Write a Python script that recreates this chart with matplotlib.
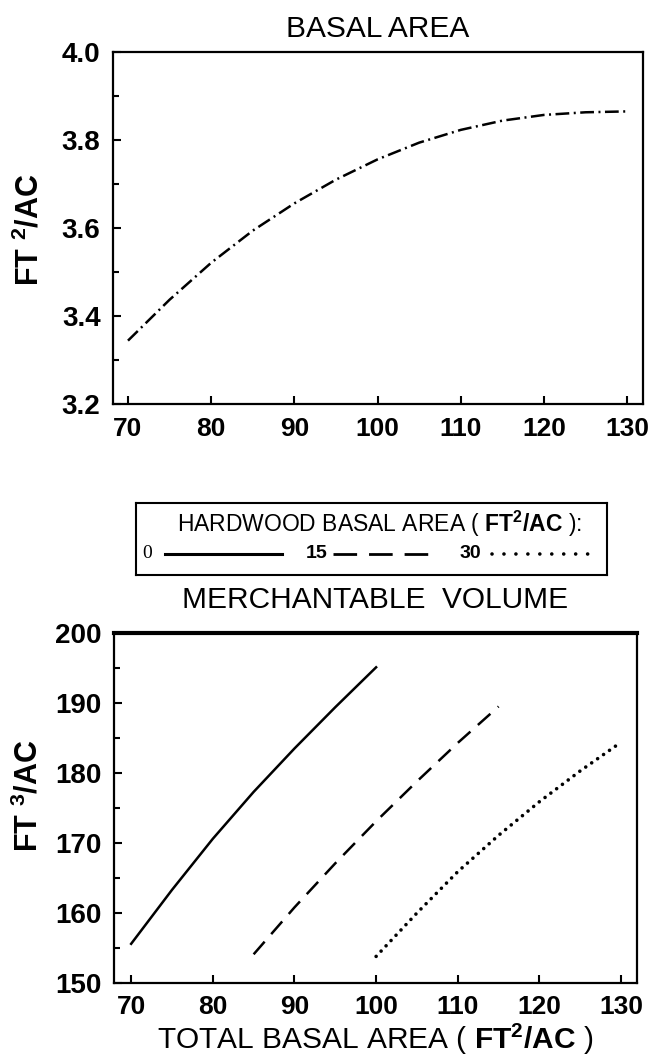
import numpy as np
import matplotlib
matplotlib.use('Agg')
import matplotlib.pyplot as plt
from matplotlib.ticker import MultipleLocator, FormatStrFormatter

plt.rcParams['font.family'] = ['Liberation Sans', 'DejaVu Sans']
plt.rcParams['mathtext.fontset'] = 'custom'
plt.rcParams['mathtext.rm'] = 'Liberation Sans'
plt.rcParams['mathtext.it'] = 'Liberation Sans:italic'
plt.rcParams['mathtext.bf'] = 'Liberation Sans:bold'

# dados
area_total_top = [70, 75, 80, 85, 90, 95, 100, 105, 110, 115, 120, 125, 130]
basal_growth = [3.344, 3.437, 3.521, 3.594, 3.656, 3.710, 3.756, 3.794, 3.823, 3.844, 3.857, 3.863, 3.865]

area_hw0 = [70, 75, 80, 85, 90, 95, 100]
vol_hw0 = [155.6, 163.3, 170.6, 177.3, 183.5, 189.4, 195.1]

area_hw15 = [85, 90, 95, 100, 105, 110, 115]
vol_hw15 = [154.1, 160.8, 167.1, 173.1, 178.8, 184.3, 189.5]

area_hw30 = [100, 105, 110, 115, 120, 125, 130]
vol_hw30 = [153.8, 160.0, 165.9, 171.1, 175.9, 180.3, 184.4]

xticks = [70, 80, 90, 100, 110, 120, 130]
legend_labels = ['0', '15', '30']

W, H = 654, 1058
fig = plt.figure(figsize=(W / 100, H / 100), dpi=100)


def estilo_eixo(ax, lw_top=1.6):
    for lado in ['left', 'right', 'bottom']:
        ax.spines[lado].set_linewidth(1.6)
    ax.spines['top'].set_linewidth(lw_top)
    ax.tick_params(which='major', direction='in', length=6, width=1.5, pad=9,
                   top=False, right=False)
    ax.tick_params(which='minor', direction='in', length=4, width=1.5,
                   top=False, right=False)
    ax.tick_params(axis='x', which='minor', length=0)
    ax.set_xticks(xticks)
    for lab in ax.get_xticklabels():
        lab.set_fontsize(19)
        lab.set_fontweight('bold')
    for lab in ax.get_yticklabels():
        lab.set_fontsize(20)
        lab.set_fontweight('bold')


# grafico de cima: area basal
ax1 = fig.add_axes([113 / W, 1 - 404 / H, 530 / W, 352 / H])
ax1.plot(area_total_top, basal_growth, color='black', linewidth=1.8,
         linestyle=(0, (5.5, 1.8, 0.8, 1.8)))
ax1.set_xlim(68.2, 131.9)
ax1.set_ylim(3.2, 4.0)
ax1.set_yticks([3.2, 3.4, 3.6, 3.8, 4.0])
ax1.yaxis.set_minor_locator(MultipleLocator(0.1))
ax1.yaxis.set_major_formatter(FormatStrFormatter('%.1f'))
estilo_eixo(ax1)
ax1.set_title('BASAL AREA', fontsize=21.5, pad=11)
ax1.set_ylabel(r'$\mathbf{FT\ ^{2}/AC}$', fontsize=22)
ax1.yaxis.set_label_coords(-0.128, 0.494)

# grafico de baixo: volume comercial
ax2 = fig.add_axes([114 / W, 1 - 983 / H, 523 / W, 350 / H])
ax2.plot(area_hw0, vol_hw0, color='black', linewidth=1.8, linestyle='-')
ax2.plot(area_hw15, vol_hw15, color='black', linewidth=1.8,
         linestyle=(0, (6.7, 4.0)))
ax2.plot(area_hw30, vol_hw30, color='black', linewidth=2.6,
         linestyle=(0, (0.01, 2.0)), dash_capstyle='round')
ax2.set_xlim(67.9, 131.95)
ax2.set_ylim(150, 200)
ax2.set_yticks([150, 160, 170, 180, 190, 200])
ax2.yaxis.set_minor_locator(MultipleLocator(5))
estilo_eixo(ax2, lw_top=3.0)
ax2.set_title('MERCHANTABLE  VOLUME', fontsize=21.5, pad=18)
ax2.set_ylabel(r'$\mathbf{FT\ ^{3}/AC}$', fontsize=22)
ax2.yaxis.set_label_coords(-0.132, 0.534)
ax2.set_xlabel(r'TOTAL BASAL AREA ( $\mathbf{FT^{2}/AC}$ )', fontsize=21.5, labelpad=2)

# legenda desenhada numa caixa propria (coordenadas em pixels da caixa)
lax = fig.add_axes([136 / W, 1 - 575 / H, 471 / W, 72 / H])
lax.set_xlim(0, 471)
lax.set_ylim(72, 0)
lax.set_xticks([])
lax.set_yticks([])
for lado in lax.spines.values():
    lado.set_linewidth(1.5)
lax.text(243, 21, r'HARDWOOD BASAL AREA ( $\mathbf{FT^{2}/AC}$ ):', fontsize=16.5,
         ha='center', va='center')
lax.text(11, 51, legend_labels[0], fontsize=14, family='Liberation Serif',
         ha='center', va='center')
lax.plot([29, 146], [51, 51], color='black', linewidth=2.2)
lax.text(181, 51, legend_labels[1], fontsize=14, fontweight='bold',
         ha='center', va='center')
lax.plot([197, 294], [51, 51], color='black', linewidth=2.0,
         linestyle=(0, (8.5, 4.3)))
lax.text(334, 51, legend_labels[2], fontsize=14, fontweight='bold',
         ha='center', va='center')
lax.plot([356, 452], [51, 51], color='black', linewidth=2.6,
         linestyle=(0, (0.01, 3.3)), dash_capstyle='round')

plt.savefig('out.png', dpi=100)
